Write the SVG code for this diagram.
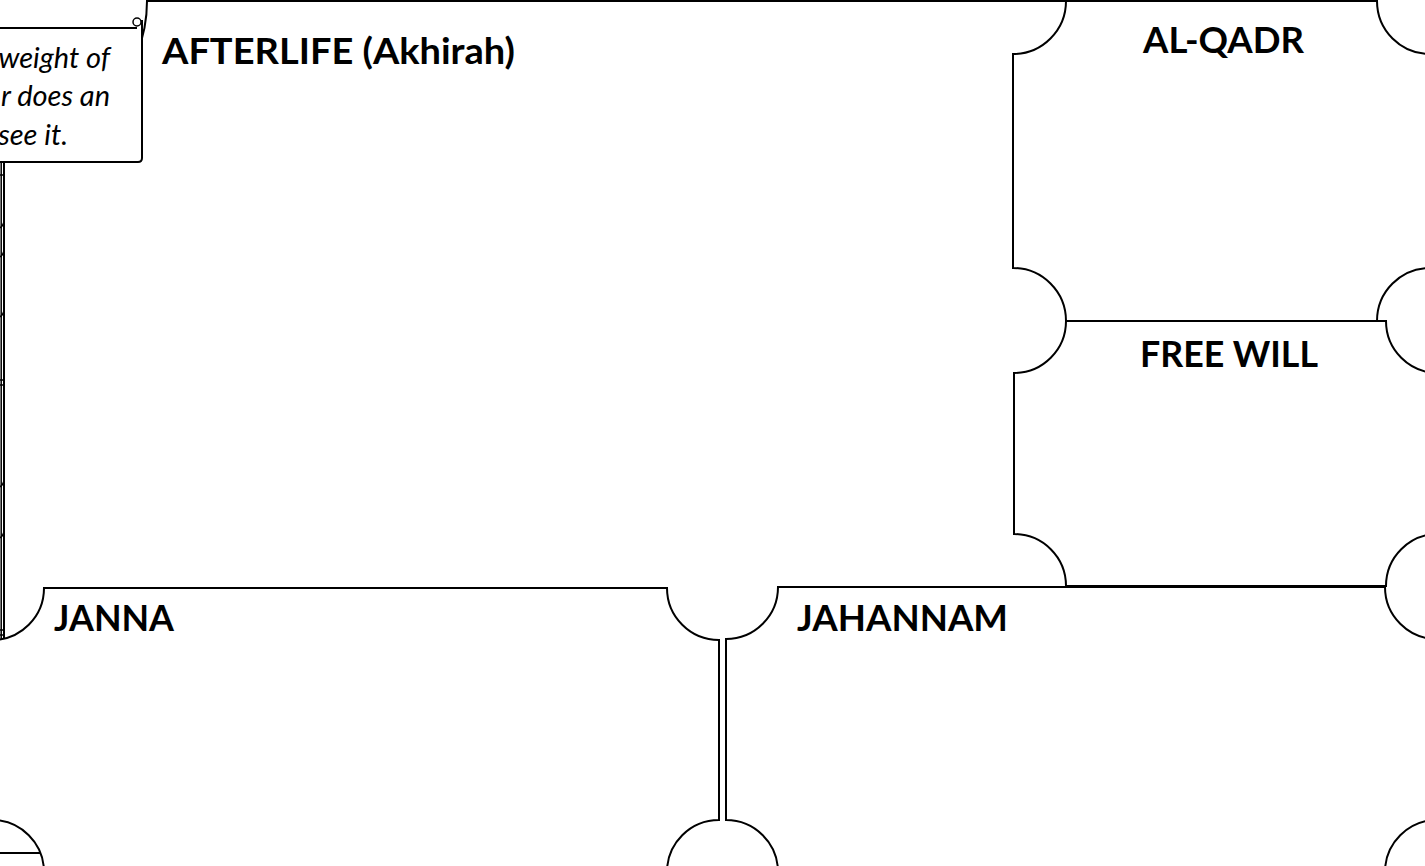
<svg xmlns="http://www.w3.org/2000/svg" width="1425" height="866" viewBox="0 0 1425 866">
  <style>
    .edge { fill: #ffffff; stroke: #000000; stroke-width: 2; }
    .line { fill: none; stroke: #000000; stroke-width: 2; }
    .thin { fill: none; stroke: #000000; stroke-width: 1.5; }
    .title { font-family: "Lato", "Liberation Sans", sans-serif; font-weight: bold; font-size: 37px; fill: #000000; }
    .note { font-family: "Lato", "Liberation Sans", sans-serif; font-style: italic; font-size: 29px; fill: #000000; }
  </style>
  <rect x="0" y="0" width="1425" height="866" fill="#ffffff"/>

  <g id="afterlife">
    <path class="line" d="M 1100 1 H 147 A 143 143 0 0 1 4 144 V 640"/>
    <text class="title" x="162" y="64" textLength="353" lengthAdjust="spacingAndGlyphs">AFTERLIFE (Akhirah)</text>
  </g>

  <g id="left-edges">
    <path class="thin" d="M 1.2 160 V 640"/>
    <path class="thin" d="M 0 175 H 4 M 0 228 Q 3 226 4 222 M 0 257 Q 3 255 4 251 M 0 317 Q 3 315 4 311 M 0 380 H 4 M 0 385 H 4 M 0 487 Q 3 485 4 481 M 0 538 Q 3 536 4 532 M 0 630 H 4 M 0 635 H 4"/>
    <path class="line" d="M 0 853 H 42"/>
  </g>

  <g id="al-qadr">
    <path class="edge" d="M 1066 1 H 1377 A 53 53 0 0 0 1430 54 V 268 A 53 53 0 0 0 1377 321 H 1066 A 53 53 0 0 0 1013 268 V 54 A 53 53 0 0 0 1066 1 Z"/>
    <text class="title" x="1143" y="53" textLength="161" lengthAdjust="spacingAndGlyphs">AL-QADR</text>
  </g>

  <g id="free-will">
    <path class="edge" d="M 1066 321 H 1386 A 52 52 0 0 0 1438 373 V 534 A 52 52 0 0 0 1386 586 H 1066 A 52 52 0 0 0 1014 534 V 373 A 52 52 0 0 0 1066 321 Z"/>
    <text class="title" x="1140" y="367" textLength="178" lengthAdjust="spacingAndGlyphs">FREE WILL</text>
  </g>

  <g id="janna">
    <path class="edge" d="M 44 588 H 667 A 52 52 0 0 0 719 640 V 820 A 52 52 0 0 0 667 872 H 44 A 52 52 0 0 0 -8 820 V 640 A 52 52 0 0 0 44 588 Z"/>
    <text class="title" x="54" y="631" textLength="120" lengthAdjust="spacingAndGlyphs">JANNA</text>
  </g>

  <g id="jahannam">
    <path class="edge" d="M 778 587 H 1385 A 52 52 0 0 0 1437 639 V 820 A 52 52 0 0 0 1385 872 H 778 A 52 52 0 0 0 726 820 V 639 A 52 52 0 0 0 778 587 Z"/>
    <text class="title" x="797" y="631" textLength="211" lengthAdjust="spacingAndGlyphs">JAHANNAM</text>
  </g>

  <g id="note">
    <path d="M -5 28 H 142 V 158 Q 142 162 138 162 H -5 Z" fill="#ffffff" stroke="none"/>
    <path class="line" d="M -5 28 H 137 M 142 20 V 158 Q 142 162 138 162 H -5"/>
    <circle cx="137" cy="22" r="4" class="thin" fill="#ffffff"/>
    <text class="note" x="110" y="68" text-anchor="end">weight of</text>
    <text class="note" x="110" y="106" text-anchor="end">r does an</text>
    <text class="note" x="68" y="145" text-anchor="end">see it.</text>
  </g>

  <g id="connectors"/>
</svg>
